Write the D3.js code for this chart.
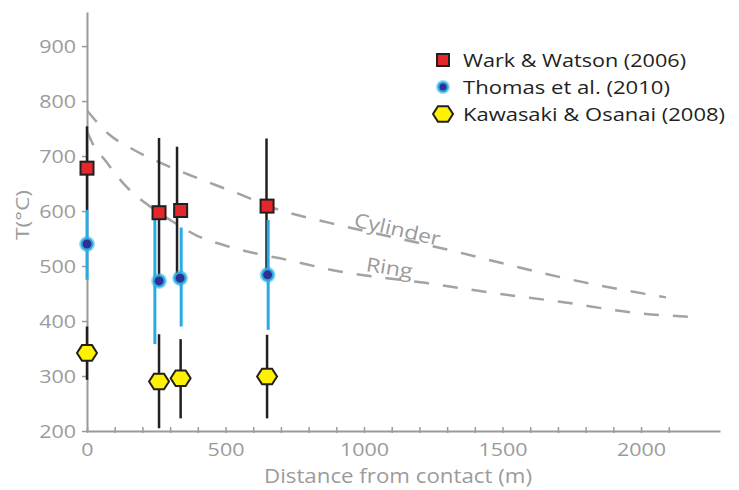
<!DOCTYPE html>
<html>
<head>
<meta charset="utf-8">
<script src="https://cdn.jsdelivr.net/npm/d3@7"></script>
<style>
  html, body { margin: 0; padding: 0; background: #fff; }
  svg { display: block; font-family: "Open Sans", "Noto Sans", sans-serif; }
</style>
</head>
<body>
<svg id="chart" width="739" height="490"></svg>
<script>
// ---------------- data ----------------
const seriesNames = ["Wark & Watson (2006)", "Thomas et al. (2010)", "Kawasaki & Osanai (2008)"];

const warkDist   = [0, 260, 338, 650];
const warkBarDist= [0, 260, 325, 648];
const warkT      = [678, 597, 601, 609];
const warkLow    = [602, 465, 484, 486];
const warkHigh   = [754, 733, 717, 732];

const thomasDist    = [0, 260, 336, 652];
const thomasBarDist = [0, 245, 340, 654];
const thomasT       = [540, 473, 478, 484];
const thomasLow     = [475, 358, 390, 384];
const thomasHigh    = [602, 593, 570, 584];

const kawaDist = [0, 260, 338, 650];
const kawaT    = [342, 290, 296, 299];
const kawaLow  = [293, 205, 223, 223];
const kawaHigh = [390, 376, 367, 375];

const cylinderDist = [0, 76, 170, 264, 368, 466, 560, 671, 880, 1100, 1300, 1516, 1733, 2043, 2090];
const cylinderT    = [783, 741, 711, 688, 666, 647, 629, 606, 578, 553, 530, 503, 477, 447, 443];
const ringDist = [0, 17, 69, 137, 212, 306, 398, 501, 617, 697, 913, 1227, 1466, 1708, 1996, 2202];
const ringT    = [745, 726, 690, 647, 614, 582, 555, 537, 522, 514, 490, 469, 451, 435, 414, 407];

const yTicks = [200, 300, 400, 500, 600, 700, 800, 900];
const xMinorTicks = d3.range(0, 2101, 100);
const xLabelTicks = [0, 500, 1000, 1500, 2000];

// ---------------- layout ----------------
const svg = d3.select("#chart");
const x = d3.scaleLinear().domain([0, 2285]).range([87, 720]);
const y = d3.scaleLinear().domain([200, 962]).range([431, 12]);

const GRAY = "#9b9b9b";
const AXIS = "#9a9a9a";
const DARK = "#231f20";
const BLUE = "#29abe2";
const NAVY = "#2e3192";
const RED = "#e5262b";
const YELLOW = "#fff200";

// horizontally widen glyphs (reference font is wider than Open Sans)
function stretch(sel, f) {
  sel.each(function () {
    const w = this.getComputedTextLength();
    if (w > 0) d3.select(this).attr("textLength", w * f).attr("lengthAdjust", "spacingAndGlyphs");
  });
}
function fixLen(sel, len) {
  sel.attr("textLength", len).attr("lengthAdjust", "spacingAndGlyphs");
}

// ---------------- axes ----------------
const yAxis = d3.axisLeft(y).tickValues(yTicks).tickSizeInner(5).tickSizeOuter(0).tickPadding(6);
const gy = svg.append("g").attr("transform", `translate(${x(0)},0)`).call(yAxis);
gy.select(".domain").attr("stroke", AXIS).attr("stroke-width", 2);
gy.selectAll(".tick line").attr("stroke", AXIS).attr("stroke-width", 1.5);
gy.selectAll(".tick text").attr("fill", GRAY).attr("font-size", 19).attr("font-family", "Open Sans");
stretch(gy.selectAll(".tick text"), 1.13);

const xAxis = d3.axisBottom(x).tickValues(xMinorTicks).tickSizeInner(3).tickSizeOuter(0).tickPadding(9)
  .tickFormat(d => xLabelTicks.includes(d) ? d : "");
const gx = svg.append("g").attr("transform", `translate(0,${y(200)})`).call(xAxis);
gx.select(".domain").attr("stroke", AXIS).attr("stroke-width", 2);
gx.selectAll(".tick line").attr("stroke", AXIS).attr("stroke-width", 1.5).attr("y1", -4).attr("y2", 2);
gx.selectAll(".tick text").attr("fill", GRAY).attr("font-size", 19).attr("font-family", "Open Sans");
stretch(gx.selectAll(".tick text"), 1.13);

fixLen(svg.append("text").attr("x", 398).attr("y", 483).attr("text-anchor", "middle")
  .attr("fill", GRAY).attr("font-size", 19.5).text("Distance from contact (m)"), 268);
fixLen(svg.append("text").attr("transform", "translate(29,215) rotate(-90)").attr("text-anchor", "middle")
  .attr("fill", GRAY).attr("font-size", 19).text("T(°C)"), 50);

// ---------------- model curves ----------------
const line = d3.line().x(d => x(d[0])).y(d => y(d[1])).curve(d3.curveMonotoneX);
const cylPts = cylinderDist.map((d, i) => [d, cylinderT[i]]);
const ringPts = ringDist.map((d, i) => [d, ringT[i]]);
[cylPts, ringPts].forEach(pts => {
  svg.append("path").datum(pts).attr("d", line).attr("fill", "none")
    .attr("stroke", "#a3a3a3").attr("stroke-width", 2.5).attr("stroke-dasharray", "15,14");
});

function interp(dists, temps, d) {
  return d3.scaleLinear().domain(dists).range(temps)(d);
}
const cylLabelD = 960, ringLabelD = 1004;
fixLen(svg.append("text")
  .attr("transform", `translate(${x(cylLabelD)},${y(interp(cylinderDist, cylinderT, cylLabelD)) - 2}) rotate(13)`)
  .attr("fill", GRAY).attr("font-size", 19.5).text("Cylinder"), 88);
fixLen(svg.append("text")
  .attr("transform", `translate(${x(ringLabelD)},${y(interp(ringDist, ringT, ringLabelD)) - 4}) rotate(9)`)
  .attr("fill", GRAY).attr("font-size", 19.5).text("Ring"), 47);

// ---------------- error bars ----------------
const gBars = svg.append("g");
warkBarDist.forEach((d, i) => {
  gBars.append("line").attr("x1", x(d)).attr("x2", x(d)).attr("y1", y(warkHigh[i])).attr("y2", y(warkLow[i]))
    .attr("stroke", DARK).attr("stroke-width", 2.5);
});
thomasBarDist.forEach((d, i) => {
  gBars.append("line").attr("x1", x(d)).attr("x2", x(d)).attr("y1", y(thomasHigh[i])).attr("y2", y(thomasLow[i]))
    .attr("stroke", BLUE).attr("stroke-width", 3);
});
kawaDist.forEach((d, i) => {
  gBars.append("line").attr("x1", x(d)).attr("x2", x(d)).attr("y1", y(kawaHigh[i])).attr("y2", y(kawaLow[i]))
    .attr("stroke", DARK).attr("stroke-width", 2.5);
});

// ---------------- markers ----------------
function hexPath(r) {
  const pts = d3.range(6).map(k => {
    const a = k * Math.PI / 3;
    return [r * Math.cos(a), r * Math.sin(a) * 0.9];
  });
  return "M" + pts.map(p => p.join(",")).join("L") + "Z";
}
function drawSquare(g, cx, cy, s) {
  g.append("rect").attr("x", cx - s / 2).attr("y", cy - s / 2).attr("width", s).attr("height", s)
    .attr("fill", RED).attr("stroke", DARK).attr("stroke-width", 2);
}
function drawCircle(g, cx, cy, r) {
  g.append("circle").attr("cx", cx).attr("cy", cy).attr("r", r + 2.5).attr("fill", BLUE).attr("opacity", 0.45);
  g.append("circle").attr("cx", cx).attr("cy", cy).attr("r", r).attr("fill", NAVY)
    .attr("stroke", BLUE).attr("stroke-width", 2);
}
function drawHex(g, cx, cy, r) {
  g.append("path").attr("d", hexPath(r)).attr("transform", `translate(${cx},${cy})`)
    .attr("fill", YELLOW).attr("stroke", DARK).attr("stroke-width", 2);
}

const gMarks = svg.append("g");
kawaDist.forEach((d, i) => drawHex(gMarks, x(d), y(kawaT[i]), 10));
thomasDist.forEach((d, i) => drawCircle(gMarks, x(d), y(thomasT[i]), 5.5));
warkDist.forEach((d, i) => drawSquare(gMarks, x(d), y(warkT[i]), 13));

// ---------------- legend ----------------
const legend = svg.append("g").attr("transform", "translate(443,60)");
const drawers = [
  (g, cy) => drawSquare(g, 0, cy, 12),
  (g, cy) => drawCircle(g, 0, cy, 4.5),
  (g, cy) => drawHex(g, 0, cy, 10)
];
const legendLens = [223, 207, 262];
seriesNames.forEach((name, i) => {
  const cy = i * 27;
  drawers[i](legend, cy);
  fixLen(legend.append("text").attr("x", 20).attr("y", cy + 7).attr("fill", DARK)
    .attr("font-size", 19).text(name), legendLens[i]);
});
</script>
</body>
</html>
